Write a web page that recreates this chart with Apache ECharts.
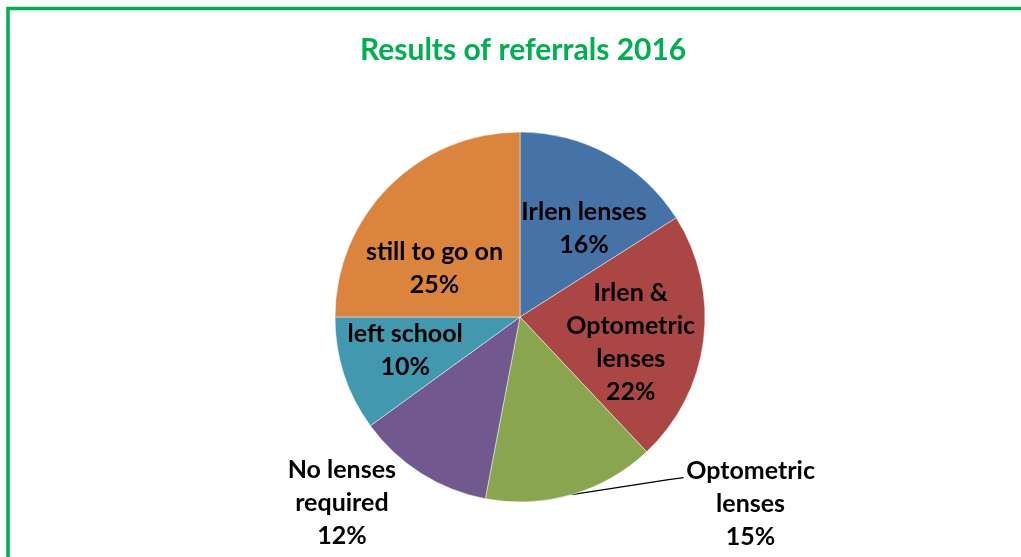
<!DOCTYPE html>
<html>
<head>
<meta charset="utf-8">
<script src="https://cdn.jsdelivr.net/npm/echarts@6/dist/echarts.min.js"></script>
<style>
  html, body { margin: 0; padding: 0; background: #fff; }
  #chart { width: 1021px; height: 557px; }
</style>
</head>
<body>
<div id="chart"></div>
<script>
const categories = ['Irlen lenses', 'Irlen &\nOptometric\nlenses', 'Optometric\nlenses', 'No lenses\nrequired', 'left school', 'still to go on'];
const shares = [16, 22, 15, 12, 10, 25];
const colours = ['#4572A7', '#AA4643', '#89A54E', '#71588F', '#4198AF', '#DB843D'];
const outsideLabels = [false, false, true, true, false, false];

// nudges applied to the library's label positions
const labelNudge = [[18, -5], [16, 13], [64, 9], [36, 30], [-24, 4], [-18, 19]];

let chart = echarts.init(document.getElementById('chart'), null, { renderer: 'canvas' });

let data = categories.map((name, i) => ({
    name: name,
    value: shares[i],
    itemStyle: { color: colours[i] },
    label: { position: outsideLabels[i] ? 'outside' : 'inside' },
    labelLine: { show: i === 2, length: 0, length2: 110, lineStyle: { color: '#000', width: 1.4 } }
}));

chart.setOption({
    animation: false,
    title: {
        text: 'Results of referrals 2016',
        left: 355,
        top: 30,
        textStyle: { fontFamily: 'Lato', fontWeight: 'bold', fontSize: 30, color: '#00B050' }
    },
    graphic: [{
        type: 'rect',
        shape: { x: 8, y: 8.5, width: 1100, height: 700 },
        style: { fill: 'none', stroke: '#00B050', lineWidth: 3.5 },
        silent: true
    }],
    series: [{
        type: 'pie',
        center: [520, 317],
        radius: 185,
        startAngle: 90,
        clockwise: true,
        avoidLabelOverlap: false,
        itemStyle: { borderColor: 'rgba(255,255,255,0.6)', borderWidth: 0.8 },
        label: {
            formatter: p => p.name + '\n' + p.value + '%',
            fontFamily: 'Lato',
            fontWeight: 'bold',
            fontSize: 25,
            lineHeight: 33,
            color: '#000',
            align: 'center'
        },
        labelLayout: function (p) {
            const n = labelNudge[p.dataIndex];
            const out = { dx: n[0], dy: n[1], align: 'center' };
            if (p.dataIndex === 2 && p.labelLinePoints) {
                const s = p.labelLinePoints[0];
                out.labelLinePoints = [s, [s[0] + 97, s[1] - 15], [s[0] + 112, s[1] - 17]];
            }
            return out;
        },
        data: data
    }]
});
</script>
</body>
</html>
